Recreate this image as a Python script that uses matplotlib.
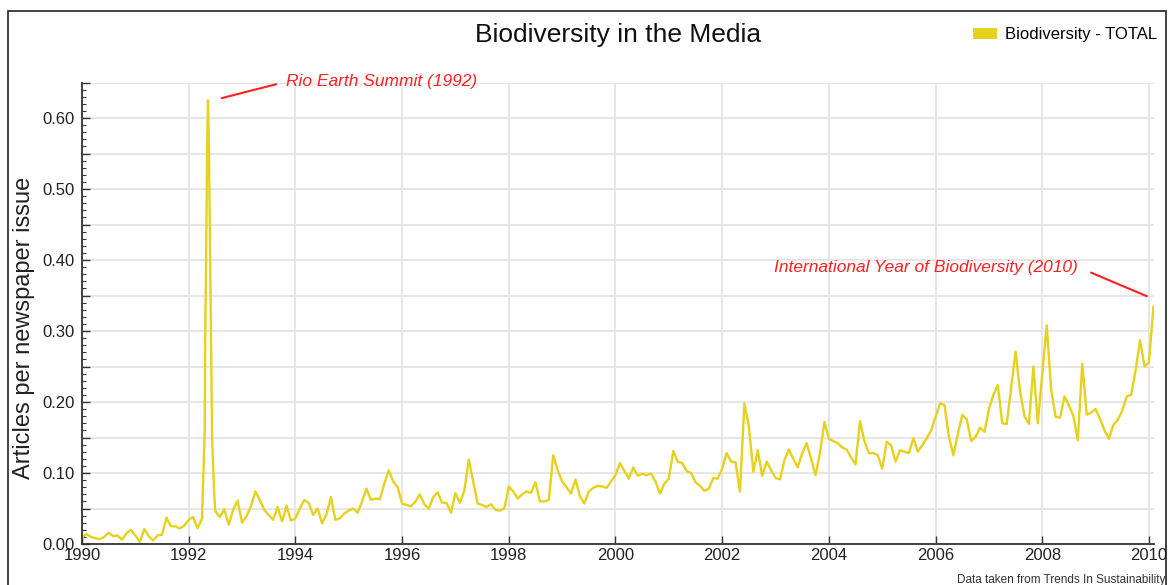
import numpy as np
import matplotlib.pyplot as plt
import matplotlib.transforms as mtransforms
from matplotlib.patches import Patch, Rectangle
from matplotlib.ticker import MultipleLocator, FuncFormatter

plt.rcParams['font.family'] = ['Liberation Sans', 'DejaVu Sans']

nan = np.nan
# monthly values Jan..Dec, articles per newspaper issue
y1990 = [0.009, 0.014, 0.010, 0.008, 0.007, 0.010, 0.016, 0.011, 0.012, 0.006, 0.015, 0.020]
y1991 = [0.012, 0.003, 0.021, 0.011, 0.005, 0.012, 0.013, 0.037, 0.025, 0.025, 0.022, 0.026]
y1992 = [0.034, 0.038, 0.022, 0.036, nan, nan, 0.046, 0.038, 0.049, 0.027, 0.048, 0.061]
y1993 = [0.030, 0.039, 0.053, 0.074, 0.062, 0.048, 0.041, 0.034, 0.052, 0.032, 0.054, 0.033]
y1994 = [0.036, 0.050, 0.062, 0.058, 0.041, 0.050, 0.029, 0.042, 0.066, 0.034, 0.036, 0.043]
y1995 = [0.047, 0.050, 0.044, 0.060, 0.078, 0.062, 0.064, 0.063, 0.085, 0.104, 0.088, 0.080]
y1996 = [0.057, 0.055, 0.053, 0.060, 0.070, 0.056, 0.050, 0.066, 0.073, 0.058, 0.058, 0.044]
y1997 = [0.072, 0.058, 0.075, 0.119, 0.088, 0.057, 0.055, 0.052, 0.056, 0.048, 0.047, 0.050]
y1998 = [0.081, 0.074, 0.064, 0.070, 0.074, 0.072, 0.087, 0.060, 0.060, 0.062, 0.125, 0.104]
y1999 = [0.088, 0.080, 0.071, 0.091, 0.067, 0.057, 0.074, 0.079, 0.082, 0.081, 0.079, 0.088]
y2000 = [0.097, 0.114, 0.103, 0.092, 0.108, 0.096, 0.099, 0.097, 0.099, 0.088, 0.071, 0.085]
y2001 = [0.092, 0.131, 0.116, 0.114, 0.103, 0.100, 0.087, 0.082, 0.075, 0.078, 0.093, 0.092]
y2002 = [0.106, 0.128, 0.116, 0.115, 0.074, 0.198, 0.166, 0.102, 0.132, 0.096, 0.116, 0.104]
y2003 = [0.093, 0.091, 0.118, 0.133, 0.120, 0.108, 0.128, 0.142, 0.120, 0.097, 0.128, 0.172]
y2004 = [0.148, 0.145, 0.142, 0.136, 0.133, 0.122, 0.112, 0.173, 0.145, 0.128, 0.128, 0.125]
y2005 = [0.106, 0.144, 0.139, 0.116, 0.132, 0.130, 0.128, 0.149, 0.130, 0.139, 0.149, 0.160]
y2006 = [0.179, 0.198, 0.196, 0.151, 0.125, 0.155, 0.182, 0.176, 0.145, 0.151, 0.164, 0.158]
y2007 = [0.190, 0.210, 0.224, 0.170, 0.169, 0.220, 0.271, 0.215, 0.180, 0.169, 0.250, 0.170]
y2008 = [0.240, 0.308, 0.217, 0.179, 0.178, 0.208, 0.195, 0.180, 0.146, 0.254, 0.182, 0.185]
y2009 = [0.190, 0.176, 0.160, 0.148, 0.168, 0.175, 0.188, 0.208, 0.210, 0.245, 0.287, 0.250]
y2010 = [0.256, 0.334]

# Rio summit, May/June 1992 (finer resolution in the source)
spike_t = [1992.27, 1992.30, 1992.31, 1992.33, 1992.345, 1992.362, 1992.38, 1992.40, 1992.42, 1992.44, 1992.48]
spike_v = [0.083, 0.158, 0.290, 0.424, 0.557, 0.625, 0.555, 0.410, 0.280, 0.146, 0.068]

monthly = (y1990 + y1991 + y1992 + y1993 + y1994 + y1995 + y1996 + y1997 + y1998 + y1999
           + y2000 + y2001 + y2002 + y2003 + y2004 + y2005 + y2006 + y2007 + y2008 + y2009 + y2010)
t = np.concatenate([1990 + np.arange(len(monthly)) / 12.0, spike_t])
v = np.concatenate([monthly, spike_v])
ok = ~np.isnan(v)
t, v = t[ok], v[ok]
order = np.argsort(t)
t, v = t[order], v[order]

yellow = '#e6d11c'
red = '#ff1f1f'
dark = '#333333'

fig = plt.figure(figsize=(11.72, 5.85), dpi=100)
# outer frame
fig.patches.append(Rectangle((8 / 1172, -0.02), 1158 / 1172, 1.02 - 10.5 / 585,
                             transform=fig.transFigure, fill=False, ec='#222222', lw=1.2))

ax = fig.add_axes([82 / 1172, 1 - 544 / 585, 1072.3 / 1172, (544 - 82.5) / 585])
ax.plot(t, v, color=yellow, lw=1.7, solid_joinstyle='round')

ax.set_xlim(1990, 2010.1)
ax.set_ylim(0, 0.65)
ax.set_xticks(range(1990, 2011, 2))
ax.yaxis.set_major_locator(MultipleLocator(0.05))
ax.yaxis.set_minor_locator(MultipleLocator(0.01))
ax.yaxis.set_major_formatter(FuncFormatter(lambda x, p: '%.2f' % x if round(x * 100) % 10 == 0 else ''))

ax.grid(True, color='#e4e4e4', lw=1.3)
ax.set_axisbelow(True)
for s in ['top', 'right']:
    ax.spines[s].set_visible(False)
for s in ['left', 'bottom']:
    ax.spines[s].set_color(dark)
    ax.spines[s].set_linewidth(1.3)
ax.tick_params(axis='both', which='both', direction='in', colors=dark, labelcolor='#222222', labelsize=12)
ax.tick_params(axis='y', which='major', length=6, width=1, pad=5)
ax.tick_params(axis='y', which='minor', length=3, width=0.8)
ax.tick_params(axis='x', which='major', length=6, width=1, pad=3)

# nudge the 0.00 label up a little so it clears the 1990 label
lab0 = ax.yaxis.get_major_ticks()[0].label1
lab0.set_transform(lab0.get_transform() + mtransforms.ScaledTranslation(0, 3 / 72, fig.dpi_scale_trans))

ax.set_ylabel('Articles per newspaper issue', fontsize=17, color='#222222')
ax.yaxis.set_label_coords(-0.044, 0.468)

fig.text(618 / 1172, 1 - 35 / 585, 'Biodiversity in the Media', ha='center', va='center',
         fontsize=19, color='#111111')
fig.legend(handles=[Patch(facecolor=yellow, edgecolor='none')], labels=['Biodiversity - TOTAL'],
           loc='center right', bbox_to_anchor=(1157 / 1172, 1 - 35 / 585), frameon=False,
           fontsize=12, handlelength=1.4, handleheight=0.65, handletextpad=0.5,
           borderaxespad=0, borderpad=0)

ax.annotate('Rio Earth Summit (1992)', xy=(1992.62, 0.628), xytext=(1993.82, 0.651),
            ha='left', va='center', fontsize=12.5, style='italic', color=red, annotation_clip=False,
            arrowprops=dict(arrowstyle='-', color=red, lw=1.5, relpos=(0, 0.5), shrinkA=5, shrinkB=0))
ax.annotate('International Year of Biodiversity (2010)', xy=(2009.96, 0.349), xytext=(2008.67, 0.390),
            ha='right', va='center', fontsize=12.5, style='italic', color=red, annotation_clip=False,
            arrowprops=dict(arrowstyle='-', color=red, lw=1.5, relpos=(1, 0.5), shrinkA=8, shrinkB=0))

fig.text(1165 / 1172, 2.5 / 585, 'Data taken from Trends In Sustainability', ha='right', va='baseline',
         fontsize=8.5, color='#333333')

fig.savefig('out.png', dpi=100)
